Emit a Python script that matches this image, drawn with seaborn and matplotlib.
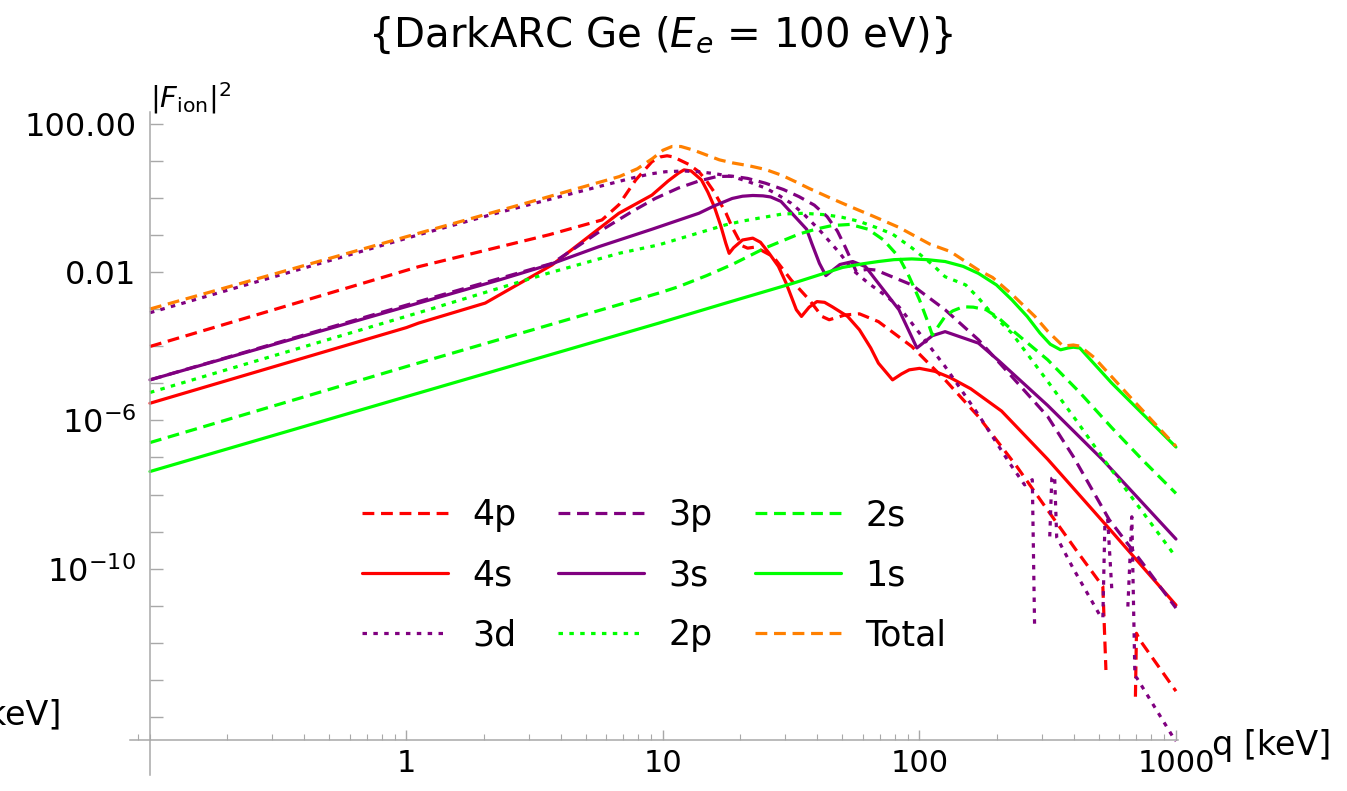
import numpy as np
import pandas as pd
import matplotlib
matplotlib.use("Agg")
import matplotlib.pyplot as plt
from matplotlib.lines import Line2D
from matplotlib.ticker import FixedLocator, FuncFormatter, NullLocator, NullFormatter
import seaborn as sns

NAN = np.nan

# ---- data: log10(q / keV) and log10(|F_ion|^2) ----
LOGQ_4P = [-1.0, 0.047, 0.555, 0.762, 0.828, 0.894, 0.957, 0.99, 1.016, 1.04, 1.07, 1.1, 1.14, 1.17, 1.2, 1.246,
           1.27, 1.297, 1.31, 1.33, 1.36, 1.43, 1.5, 1.57, 1.62, 1.648, 1.71, 1.766, 1.84, 1.97, 2.1, 2.23, 2.34,
           2.38, 2.48, 2.61, 2.715, 2.727, NAN, 2.842, 2.846, 2.859, 3.0]
LOGF_4P = [-4.01, -1.86, -1.0, -0.6, -0.19, 0.48, 0.97, 1.1, 1.13, 1.1, 1.0, 0.9, 0.7, 0.45, 0.15, -0.42,
           -0.8, -1.15, -1.3, -1.36, -1.33, -1.59, -2.22, -2.75, -3.2, -3.29, -3.16, -3.13, -3.34, -4.01, -4.91, -5.9, -6.89,
           -7.25, -8.23, -9.49, -10.48, -12.73, NAN, -13.45, -11.74, -11.92, -13.3]

LOGQ_4S = [-1.0, 0.0, 0.047, 0.307, 0.568, 0.828, 0.957, 1.02, 1.06, 1.082, 1.11, 1.15, 1.175, 1.2, 1.225, 1.245,
           1.258, 1.275, 1.31, 1.35, 1.38, 1.414, 1.45, 1.48, 1.52, 1.54, 1.57, 1.60, 1.63, 1.66, 1.72, 1.766,
           1.81, 1.84, 1.895, 1.93, 1.96, 2.0, 2.06, 2.12, 2.2, 2.32, 2.5, 2.75, 3.0]
LOGF_4S = [-5.54, -3.5, -3.38, -2.84, -1.81, -0.42, 0.07, 0.45, 0.66, 0.75, 0.72, 0.48, 0.15, -0.24, -0.75, -1.23,
           -1.5, -1.35, -1.14, -1.09, -1.2, -1.5, -1.85, -2.3, -3.02, -3.2, -2.95, -2.8, -2.82, -2.94, -3.2, -3.56,
           -4.05, -4.46, -4.91, -4.75, -4.64, -4.6, -4.68, -4.85, -5.15, -5.75, -7.05, -9.0, -10.98]

LOGQ_3D = [-1.0, 0.047, 0.36, 0.75, 0.88, 0.95, 1.01, 1.08, 1.14, 1.2, 1.27, 1.33, 1.40, 1.45, 1.5, 1.55, 1.61,
           1.69, 1.74, 1.8, 1.87, 1.92, 1.97, 2.1, 2.23, 2.352, 2.41, 2.44, 2.449, NAN, 2.508, 2.516, 2.527,
           2.535, 2.6, 2.703, 2.715, 2.723, 2.734, 2.75, NAN, 2.8125, 2.828, 2.84, 2.848, 2.988, 3.0]
LOGF_3D = [-3.1, -1.0, -0.4, 0.3, 0.53, 0.64, 0.7, 0.72, 0.7, 0.65, 0.57, 0.44, 0.26, 0.07, -0.15, -0.45, -0.87,
           -1.5, -1.95, -2.3, -2.65, -2.94, -3.38, -4.55, -5.85, -7.16, -7.74, -7.6, -11.6, NAN, -9.13, -7.56, -7.5,
           -9.15, -10.0, -11.25, -11.33, -8.75, -8.68, -10.57, NAN, -11.02, -8.6, -12.9, -12.95, -14.53, -14.65]

LOGQ_3P = [-1.0, 0.047, 0.568, 0.762, 0.88, 0.97, 1.06, 1.14, 1.21, 1.27, 1.33, 1.40, 1.47, 1.53, 1.59, 1.64,
           1.68, 1.71, 1.735, 1.754, 1.78, 1.8, 1.83, 1.9, 1.97, 2.1, 2.23, 2.36, 2.5, 2.6, 2.74, 2.87, 3.0]
LOGF_3P = [-4.91, -2.8, -1.77, -0.87, -0.37, -0.02, 0.26, 0.45, 0.57, 0.58, 0.52, 0.39, 0.22, 0.03, -0.2, -0.51,
           -0.9, -1.32, -1.7, -2.0, -1.95, -1.93, -1.95, -2.15, -2.35, -3.02, -3.83, -4.82, -5.9, -6.98, -8.68, -9.85, -11.06]

LOGQ_3S = [-1.0, 0.047, 0.36, 0.555, 0.75, 0.957, 1.14, 1.2, 1.27, 1.31, 1.35, 1.39, 1.42, 1.46, 1.5, 1.56, 1.58,
           1.61, 1.635, 1.69, 1.74, 1.79, 1.83, 1.92, 1.99, 2.05, 2.1, 2.23, 2.31, 2.5, 2.715, 3.0]
LOGF_3S = [-4.91, -2.84, -2.22, -1.81, -1.32, -0.85, -0.42, -0.22, -0.02, 0.04, 0.06, 0.05, 0.02, -0.1, -0.4, -0.85, -1.23,
           -1.77, -2.1, -1.8, -1.72, -1.86, -2.22, -3.02, -4.05, -3.72, -3.61, -3.92, -4.4, -5.6, -7.07, -9.2]

LOGQ_2P = [-1.0, 0.047, 0.555, 0.828, 0.984, 1.245, 1.31, 1.375, 1.465, 1.55, 1.635, 1.7, 1.766, 1.83, 1.895,
           1.97, 2.05, 2.1, 2.18, 2.23, 2.285, 2.36, 2.5, 2.61, 2.73, 2.98, 3.0]
LOGF_2P = [-5.25, -3.1, -2.03, -1.5, -1.27, -0.73, -0.63, -0.55, -0.44, -0.42, -0.46, -0.53, -0.64, -0.8, -0.98,
           -1.35, -1.8, -2.13, -2.35, -2.7, -3.15, -3.65, -4.95, -5.99, -7.16, -9.5, -9.7]

LOGQ_2S = [-1.0, 0.0, 0.984, 1.06, 1.17, 1.27, 1.4, 1.47, 1.53, 1.6, 1.66, 1.73, 1.8, 1.86, 1.92, 1.96, 2.0, 2.03,
           2.05, 2.075, 2.1, 2.13, 2.17, 2.21, 2.26, 2.31, 2.36, 2.5, 2.625, 2.75, 2.87, 3.0]
LOGF_2S = [-6.6, -4.55, -2.57, -2.4, -2.1, -1.8, -1.35, -1.15, -0.98, -0.84, -0.75, -0.72, -0.85, -1.14, -1.6, -2.13,
           -2.75, -3.3, -3.7, -3.45, -3.2, -3.05, -2.94, -2.95, -3.02, -3.25, -3.56, -4.37, -5.25, -6.2, -7.07, -7.97]

LOGQ_1S = [-1.0, 0.0, 0.984, 1.245, 1.505, 1.70, 1.78, 1.84, 1.9, 1.97, 2.03, 2.1, 2.17, 2.23, 2.3, 2.36, 2.42,
           2.47, 2.51, 2.55, 2.58, 2.6, 2.625, 2.75, 3.0]
LOGF_1S = [-7.38, -5.36, -3.38, -2.84, -2.31, -1.88, -1.78, -1.72, -1.67, -1.65, -1.67, -1.72, -1.85, -2.04, -2.35,
           -2.75, -3.2, -3.65, -3.95, -4.1, -4.05, -4.03, -4.05, -5.0, -6.72]

LOGQ_TOT = [-1.0, 0.0, 0.5, 0.83, 0.9, 0.96, 1.0, 1.035, 1.07, 1.12, 1.17, 1.22, 1.27, 1.336, 1.4, 1.465, 1.52,
            1.57, 1.65, 1.73, 1.82, 1.92, 2.04, 2.12, 2.23, 2.285, 2.36, 2.45, 2.5, 2.56, 2.6, 2.625, 2.68, 2.82, 3.0]
LOGF_TOT = [-3.0, -1.05, -0.08, 0.57, 0.78, 1.06, 1.28, 1.38, 1.38, 1.28, 1.15, 1.02, 0.94, 0.86, 0.76, 0.6, 0.42,
            0.25, 0.0, -0.24, -0.5, -0.8, -1.25, -1.45, -1.95, -2.15, -2.6, -3.2, -3.6, -4.0, -3.97, -4.0, -4.3, -5.36, -6.7]

ORBITALS = ["4p", "4s", "3d", "3p", "3s", "2p", "2s", "1s", "Total"]
X_TICKS = [1, 10, 100, 1000]
Y_LABELS = {2: "100.00", -2: "0.01", -6: r"$10^{-6}$", -10: r"$10^{-10}$"}

RED, PURPLE, GREEN, ORANGE = "#FF0000", "#800080", "#00FF00", "#FF8000"
DASH = (0, (3.7, 2.1))
DOT = (0, (1.4, 2.0))
SOLID = "-"
STYLE = {
    "4p": (RED, DASH), "4s": (RED, SOLID), "3d": (PURPLE, DOT),
    "3p": (PURPLE, DASH), "3s": (PURPLE, SOLID), "2p": (GREEN, DOT),
    "2s": (GREEN, DASH), "1s": (GREEN, SOLID), "Total": (ORANGE, DASH),
}
SERIES = {
    "4p": (LOGQ_4P, LOGF_4P), "4s": (LOGQ_4S, LOGF_4S), "3d": (LOGQ_3D, LOGF_3D),
    "3p": (LOGQ_3P, LOGF_3P), "3s": (LOGQ_3S, LOGF_3S), "2p": (LOGQ_2P, LOGF_2P),
    "2s": (LOGQ_2S, LOGF_2S), "1s": (LOGQ_1S, LOGF_1S), "Total": (LOGQ_TOT, LOGF_TOT),
}


def to_frame(name, lq, lf):
    lq = np.asarray(lq, float)
    lf = np.asarray(lf, float)
    seg = np.cumsum(np.isnan(lf))
    m = ~np.isnan(lf)
    return pd.DataFrame({"q": 10 ** lq[m], "F": 10 ** lf[m], "seg": seg[m], "orbital": name})


sns.set_theme(style="white")
plt.rcParams["font.family"] = ["DejaVu Sans"]
plt.rcParams["mathtext.fontset"] = "dejavusans"
plt.rcParams["text.color"] = "black"
plt.rcParams["xtick.color"] = "black"
plt.rcParams["ytick.color"] = "black"

W, H = 1347, 791
fig = plt.figure(figsize=(W / 100, H / 100), dpi=100)
ax = fig.add_axes([130 / W, 16 / H, 1048 / W, 663 / H])
ax.set_xscale("log")
ax.set_yscale("log")

LW = 2.3
for name in ORBITALS:
    col, ls = STYLE[name]
    df = to_frame(name, *SERIES[name])
    sns.lineplot(data=df, x="q", y="F", units="seg", estimator=None, sort=False,
                 color=col, linewidth=LW, linestyle=ls, ax=ax, legend=False)

ax.set_xlim(10 ** -1.078, 10 ** 3.008)
ax.set_ylim(10 ** -15.56, 10 ** 2.31)
ax.set_xlabel("")
ax.set_ylabel("")
ax.grid(False)

AXC = "#a8a8a8"
for s in ("top", "right"):
    ax.spines[s].set_visible(False)
ax.spines["left"].set_position(("data", 0.1))
ax.spines["bottom"].set_position(("data", 10 ** -14.61))
for s in ("left", "bottom"):
    ax.spines[s].set_color(AXC)
    ax.spines[s].set_linewidth(1.1)

ax.xaxis.set_major_locator(FixedLocator(X_TICKS))
ax.xaxis.set_major_formatter(FuncFormatter(lambda v, p: f"{int(round(v))}"))
minor_x = [k * 10.0 ** d for d in range(-2, 3) for k in range(2, 10)] + [0.1]
ax.xaxis.set_minor_locator(FixedLocator(minor_x))
ax.xaxis.set_minor_formatter(NullFormatter())
ax.yaxis.set_major_locator(FixedLocator([10.0 ** e for e in range(-14, 3)]))
ax.yaxis.set_major_formatter(FuncFormatter(lambda v, p: Y_LABELS.get(int(round(np.log10(v))), "")))
ax.yaxis.set_minor_locator(NullLocator())
ax.yaxis.set_minor_formatter(NullFormatter())

ax.tick_params(axis="x", which="major", direction="in", length=7, width=1, color=AXC,
               labelsize=22, pad=7, labelcolor="black", bottom=True)
ax.tick_params(axis="x", which="minor", direction="in", length=4, width=0.8, color=AXC, bottom=True)
ax.tick_params(axis="y", which="major", direction="in", length=9, width=1, color=AXC,
               labelsize=23, pad=10, labelcolor="black", left=True)

fig.text(661 / W, 1 - 35 / H, r"{DarkARC Ge ($E_e$ = 100 eV)}", ha="center", va="center", fontsize=29)
fig.text(150 / W, 1 - 98 / H, r"$|F_{\mathrm{ion}}|^2$", ha="left", va="center", fontsize=21)
fig.text(1212 / W, 1 - 745 / H, "q [keV]", ha="left", va="center", fontsize=24)
fig.text(61 / W, 1 - 715 / H, "[keV]", ha="right", va="center", fontsize=24)

handles = []
for name in ORBITALS:
    col, ls = STYLE[name]
    handles.append(Line2D([], [], color=col, linestyle=ls, linewidth=LW))
fig.legend(handles, ORBITALS, ncol=3, loc="upper left", bbox_to_anchor=(362 / W, 1 - 498 / H),
           frameon=False, fontsize=25, handlelength=2.48, handletextpad=0.7, columnspacing=1.2,
           labelspacing=0.75, borderaxespad=0, borderpad=0)

fig.savefig("out.png", dpi=100)
